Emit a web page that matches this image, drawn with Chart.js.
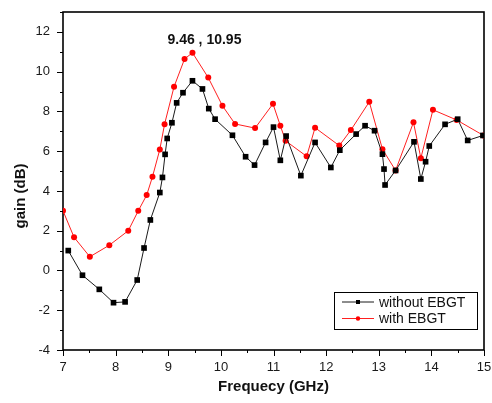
<!DOCTYPE html>
<html>
<head>
<meta charset="utf-8">
<script src="https://cdn.jsdelivr.net/npm/chart.js@4.4.0/dist/chart.umd.min.js"></script>
<style>
  html, body { margin: 0; padding: 0; background: #fff; }
  #wrap { width: 492px; height: 403px; position: relative; }
</style>
</head>
<body>
<div id="wrap"><canvas id="gainChart"></canvas></div>
<script>
// measured gain, two antenna versions
const freqPlain = [7.10, 7.37, 7.69, 7.96, 8.18, 8.41, 8.54, 8.66, 8.84, 8.89, 8.94, 8.98, 9.07, 9.16, 9.28, 9.46,
    9.65, 9.77, 9.89, 10.22, 10.47, 10.64, 10.85, 11.00, 11.13, 11.24, 11.52, 11.79, 12.09, 12.26, 12.57, 12.74,
    12.92, 13.07, 13.10, 13.12, 13.32, 13.67, 13.80, 13.89, 13.96, 14.26, 14.50, 14.69, 14.98];
const gainPlain = [1.00, -0.24, -0.95, -1.62, -1.58, -0.48, 1.13, 2.54, 3.92, 4.68, 5.84, 6.64, 7.43, 8.43, 8.94, 9.54,
    9.13, 8.14, 7.61, 6.80, 5.72, 5.30, 6.44, 7.21, 5.54, 6.76, 4.77, 6.44, 5.18, 6.05, 6.86, 7.28,
    7.03, 5.85, 5.10, 4.30, 5.03, 6.47, 4.60, 5.47, 6.26, 7.35, 7.61, 6.54, 6.79];

const freqEbgt = [7.00, 7.21, 7.51, 7.88, 8.24, 8.43, 8.59, 8.70, 8.84, 8.93, 9.11, 9.31, 9.46, 9.76, 10.03, 10.27,
    10.65, 10.99, 11.13, 11.23, 11.63, 11.79, 12.25, 12.47, 12.82, 13.07, 13.32, 13.66, 13.80, 14.03, 14.48, 14.99];
const gainEbgt = [3.00, 1.67, 0.69, 1.27, 2.00, 3.00, 3.79, 4.71, 6.09, 7.36, 9.24, 10.64, 10.95, 9.70, 8.28, 7.37,
    7.16, 8.38, 7.28, 6.52, 5.74, 7.18, 6.28, 7.06, 8.48, 6.10, 5.03, 7.45, 5.65, 8.08, 7.57, 6.79];

const seriesNames = ['without EBGT', 'with EBGT'];
const xTitle = 'Frequecy (GHz)';
const yTitle = 'gain (dB)';
const xMin = 7, xMax = 15;
const yMin = -4, yMax = 13;

function pairs(xs, ys) {
    return xs.map(function(x, i){ return {x: x, y: ys[i]}; });
}

const FONT = 'Arial, "Liberation Sans", sans-serif';

// box, tick marks, y title, legend and the peak note
const decorations = {
    id: 'decorations',
    beforeDatasetsDraw(chart) {
        const ctx = chart.ctx, a = chart.chartArea;
        const x = chart.scales.x, y = chart.scales.y;
        ctx.save();
        ctx.strokeStyle = '#000';
        ctx.lineWidth = 1;
        ctx.beginPath();
        for (let v = yMin; v <= yMax; v++) {
            const py = Math.round(y.getPixelForValue(v)) + 0.5;
            const len = v % 2 === 0 ? 6 : 3;
            ctx.moveTo(a.left - len, py);
            ctx.lineTo(a.left, py);
        }
        for (let v = xMin; v <= xMax; v += 0.5) {
            const px = Math.round(x.getPixelForValue(v)) + 0.5;
            const len = Number.isInteger(v) ? 6 : 3;
            ctx.moveTo(px, a.bottom);
            ctx.lineTo(px, a.bottom + len);
        }
        ctx.stroke();
        ctx.lineWidth = 1.6;
        ctx.strokeRect(a.left, a.top, a.right - a.left, a.bottom - a.top);

        ctx.fillStyle = '#111';
        ctx.font = 'bold 15px ' + FONT;
        ctx.textAlign = 'center';
        ctx.textBaseline = 'middle';
        ctx.translate(21, 196);
        ctx.rotate(-Math.PI / 2);
        ctx.fillText(yTitle, 0, 0);
        ctx.restore();
    },
    afterDraw(chart) {
        const ctx = chart.ctx, a = chart.chartArea;
        const x = chart.scales.x, y = chart.scales.y;
        ctx.save();

        // peak of the EBGT curve
        let k = 0;
        gainEbgt.forEach(function(g, i){ if (g > gainEbgt[k]) k = i; });
        const px = x.getPixelForValue(freqEbgt[k]);
        const py = y.getPixelForValue(gainEbgt[k]);
        ctx.fillStyle = '#111';
        ctx.font = 'bold 14px ' + FONT;
        ctx.textAlign = 'center';
        ctx.textBaseline = 'middle';
        ctx.fillText(freqEbgt[k].toFixed(2) + ' , ' + gainEbgt[k].toFixed(2), px + 12, py - 13);

        // legend box
        const bw = 143, bh = 37;
        const bx = a.right - 7 - bw, by = a.bottom - 21 - bh;
        ctx.fillStyle = '#fff';
        ctx.fillRect(bx, by, bw, bh);
        ctx.strokeStyle = '#000';
        ctx.lineWidth = 1;
        ctx.strokeRect(bx + 0.5, by + 0.5, bw, bh);
        ctx.font = '14px ' + FONT;
        ctx.textAlign = 'left';
        chart.data.datasets.forEach(function(ds, i){
            const ry = by + 10 + i * 16.5;
            ctx.strokeStyle = ds.borderColor;
            ctx.lineWidth = 1;
            ctx.beginPath();
            ctx.moveTo(bx + 8, ry);
            ctx.lineTo(bx + 40, ry);
            ctx.stroke();
            ctx.fillStyle = ds.pointBackgroundColor;
            if (ds.pointStyle === 'rect') {
                ctx.fillRect(bx + 22, ry - 2, 4, 4);
            } else {
                ctx.beginPath();
                ctx.arc(bx + 24, ry, 2.2, 0, Math.PI * 2);
                ctx.fill();
            }
            ctx.fillStyle = '#111';
            ctx.fillText(ds.label, bx + 45, ry + 1);
        });
        ctx.restore();
    }
};

new Chart(document.getElementById('gainChart'), {
    type: 'line',
    data: {
        datasets: [{
            label: seriesNames[0],
            data: pairs(freqPlain, gainPlain),
            borderColor: '#1a1a1a',
            backgroundColor: '#000',
            pointBackgroundColor: '#000',
            pointBorderColor: '#000',
            pointStyle: 'rect',
            pointRadius: 4,
            pointBorderWidth: 0,
            borderWidth: 1,
            tension: 0
        }, {
            label: seriesNames[1],
            data: pairs(freqEbgt, gainEbgt),
            borderColor: '#ff2020',
            backgroundColor: '#ff0000',
            pointBackgroundColor: '#ff0000',
            pointBorderColor: '#ff0000',
            pointStyle: 'circle',
            pointRadius: 3,
            pointBorderWidth: 0,
            borderWidth: 1,
            tension: 0
        }]
    },
    options: {
        responsive: true,
        maintainAspectRatio: false,
        animation: false,
        layout: { padding: { top: 12, right: 8, left: 0, bottom: 0 } },
        plugins: {
            legend: { display: false },
            tooltip: { enabled: false }
        },
        scales: {
            x: {
                type: 'linear',
                min: xMin,
                max: xMax,
                grid: { display: false, drawTicks: false },
                border: { display: false },
                ticks: {
                    stepSize: 1,
                    autoSkip: false,
                    padding: 10,
                    color: '#1a1a1a',
                    font: { family: FONT, size: 13 }
                },
                title: {
                    display: true,
                    text: xTitle,
                    color: '#111',
                    font: { family: FONT, size: 15, weight: 'bold' },
                    padding: { top: 0, bottom: 7 }
                },
                afterFit(scale) {
                    scale.height = 53;
                    scale.paddingLeft = 0;
                    scale.paddingRight = 0;
                }
            },
            y: {
                min: yMin,
                max: yMax,
                grid: { display: false, drawTicks: false },
                border: { display: false },
                ticks: {
                    stepSize: 1,
                    autoSkip: false,
                    padding: 13,
                    color: '#1a1a1a',
                    font: { family: FONT, size: 13 },
                    callback: function(v){ return v % 2 === 0 ? v : ''; }
                },
                afterFit(scale) {
                    scale.width = 63;
                    scale.paddingTop = 0;
                    scale.paddingBottom = 0;
                }
            }
        }
    },
    plugins: [decorations]
});
</script>
</body>
</html>
